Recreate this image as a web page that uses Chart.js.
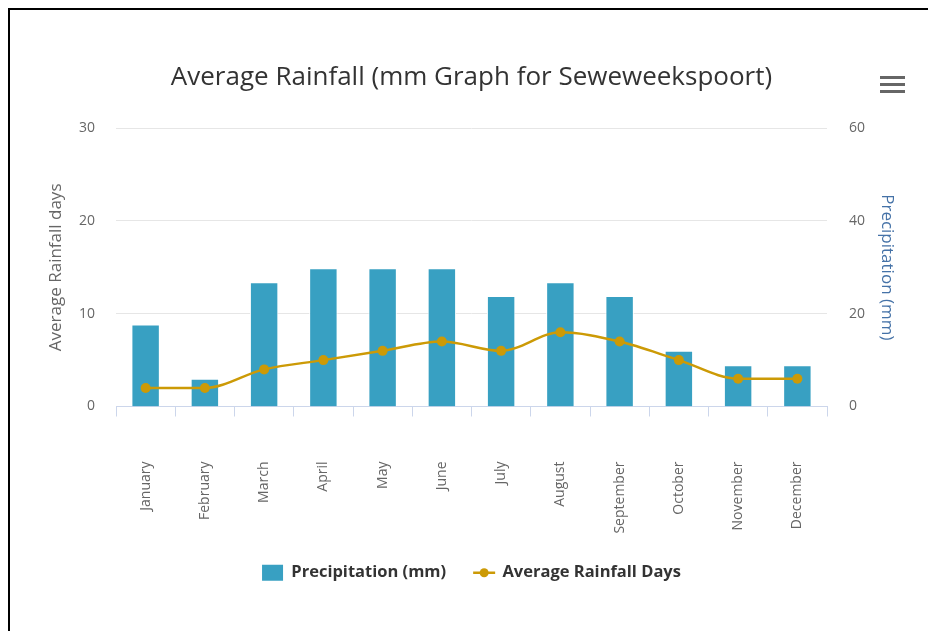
<!DOCTYPE html>
<html>
<head>
<meta charset="utf-8">
<script src="https://cdn.jsdelivr.net/npm/chart.js@4.4.1/dist/chart.umd.min.js"></script>
<style>
  body { margin: 0; background: #fff; }
  #wrap { position: relative; width: 928px; height: 631px; }
  #frame { position: absolute; left: 8px; top: 8px; right: 0; bottom: 0;
           border-left: 2px solid #000; border-top: 2px solid #000; pointer-events: none; }
</style>
</head>
<body>
<div id="wrap">
  <canvas id="rainChart" width="928" height="631"></canvas>
  <div id="frame"></div>
</div>
<script>
const months = ["January", "February", "March", "April", "May", "June",
  "July", "August", "September", "October", "November", "December"];

// mm, right axis
const precipitation = [17.7, 6, 26.8, 29.8, 29.8, 29.8, 23.8, 26.8, 23.8, 12, 8.9, 8.9];

// days, left axis
const rainDays = [2, 2, 4, 5, 6, 7, 6, 8, 7, 5, 3, 3];

const barColor = '#38a0c2';
const lineColor = '#cc9a06';
const fontName = '"Open Sans", "DejaVu Sans", sans-serif';

// little hamburger icon, top right
const menuIcon = {
  id: 'menuIcon',
  afterDraw(chart) {
    const ctx = chart.ctx;
    ctx.save();
    ctx.fillStyle = '#666';
    [76, 83, 90].forEach(y => ctx.fillRect(880, y, 25, 3));
    ctx.restore();
  }
};

// line + dot symbol for the spline legend item
const legendLine = {
  id: 'legendLine',
  afterDraw(chart) {
    const lg = chart.legend;
    if (!lg || !lg.legendHitBoxes[1]) return;
    const hb = lg.legendHitBoxes[1];
    const ctx = chart.ctx;
    const y = hb.top + hb.height / 2;
    ctx.save();
    ctx.strokeStyle = lineColor;
    ctx.lineWidth = 2.5;
    ctx.beginPath();
    ctx.moveTo(hb.left, y);
    ctx.lineTo(hb.left + 22, y);
    ctx.stroke();
    ctx.fillStyle = lineColor;
    ctx.beginPath();
    ctx.arc(hb.left + 11, y, 4.5, 0, Math.PI * 2);
    ctx.fill();
    ctx.restore();
  }
};

const rainChart = new Chart(document.getElementById('rainChart'), {
  type: 'bar',
  data: {
    labels: months,
    datasets: [
      {
        type: 'bar',
        label: 'Precipitation (mm)',
        data: precipitation,
        backgroundColor: barColor,
        borderColor: '#ffffff',
        borderWidth: 1,
        barPercentage: 0.48,
        categoryPercentage: 1,
        yAxisID: 'y1',
        order: 2
      },
      {
        type: 'line',
        label: 'Average Rainfall Days',
        data: rainDays,
        borderColor: lineColor,
        backgroundColor: lineColor,
        borderWidth: 2.5,
        pointRadius: 5,
        pointBackgroundColor: lineColor,
        pointBorderWidth: 0,
        cubicInterpolationMode: 'monotone',
        fill: false,
        yAxisID: 'y',
        order: 1
      }
    ]
  },
  options: {
    responsive: false,
    animation: false,
    layout: { padding: { top: 0, left: 0, right: 0, bottom: 40 } },
    plugins: {
      title: {
        display: true,
        fullSize: false,
        text: 'Average Rainfall (mm Graph for Seweweekspoort)',
        color: '#333',
        font: { family: fontName, size: 26, weight: 'normal' },
        padding: { top: 62, bottom: 35 }
      },
      legend: {
        position: 'bottom',
        fullSize: false,
        labels: {
          color: '#333',
          font: { family: fontName, size: 16.5, weight: 'bold' },
          boxWidth: 21,
          boxHeight: 16,
          padding: 27,
          generateLabels(chart) {
            return chart.data.datasets.map((ds, i) => ({
              text: ds.label,
              fillStyle: i === 0 ? barColor : 'rgba(0,0,0,0)',
              strokeStyle: 'rgba(0,0,0,0)',
              lineWidth: 0,
              fontColor: '#333',
              datasetIndex: i
            }));
          }
        }
      },
      tooltip: { enabled: false }
    },
    scales: {
      x: {
        afterFit(axis) { axis.height = 131; },
        grid: {
          display: true,
          offset: true,
          drawOnChartArea: false,
          drawTicks: true,
          tickLength: 10,
          color: '#ccd6eb'
        },
        border: { display: true, color: '#ccd6eb', width: 1 },
        ticks: {
          autoSkip: false,
          minRotation: 90,
          maxRotation: 90,
          padding: 45,
          color: '#666',
          font: { family: fontName, size: 14 }
        }
      },
      y: {
        position: 'left',
        min: 0,
        max: 30,
        afterFit(axis) { axis.width = 116; },
        grid: { color: '#e6e6e6', drawTicks: false },
        border: { display: false },
        ticks: {
          stepSize: 10,
          padding: 21,
          color: '#666',
          font: { family: fontName, size: 14 }
        },
        title: {
          display: true,
          text: 'Average Rainfall days',
          color: '#666',
          font: { family: fontName, size: 17 },
          padding: { top: 46, bottom: 0 }
        }
      },
      y1: {
        position: 'right',
        min: 0,
        max: 60,
        afterFit(axis) { axis.width = 101; },
        grid: { display: false, drawOnChartArea: false, drawTicks: false },
        border: { display: false },
        ticks: {
          stepSize: 20,
          padding: 22,
          color: '#666',
          font: { family: fontName, size: 14 }
        },
        title: {
          display: true,
          text: 'Precipitation (mm)',
          color: '#4572a7',
          font: { family: fontName, size: 17 },
          padding: { top: 31, bottom: 0 }
        }
      }
    }
  },
  plugins: [menuIcon, legendLine]
});
</script>
</body>
</html>
